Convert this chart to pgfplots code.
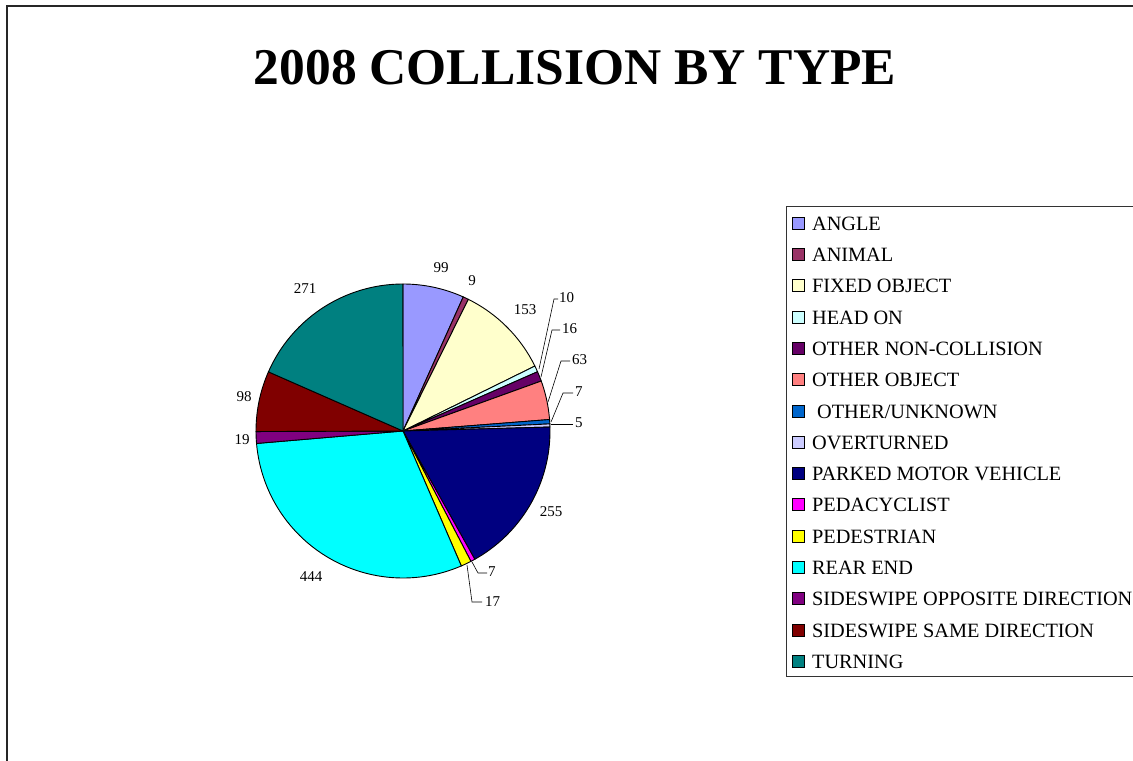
\documentclass[border=0pt]{standalone}
\usepackage{pgfplots}
\usepackage{pgfplotstable}
\pgfplotsset{compat=1.18}
\usepackage{fontspec}
\setmainfont{Liberation Serif}

% Excel palette, one colour per slice
\definecolor{c0}{HTML}{9999FF}
\definecolor{c1}{HTML}{993366}
\definecolor{c2}{HTML}{FFFFCC}
\definecolor{c3}{HTML}{CCFFFF}
\definecolor{c4}{HTML}{660066}
\definecolor{c5}{HTML}{FF8080}
\definecolor{c6}{HTML}{0066CC}
\definecolor{c7}{HTML}{CCCCFF}
\definecolor{c8}{HTML}{000080}
\definecolor{c9}{HTML}{FF00FF}
\definecolor{c10}{HTML}{FFFF00}
\definecolor{c11}{HTML}{00FFFF}
\definecolor{c12}{HTML}{800080}
\definecolor{c13}{HTML}{800000}
\definecolor{c14}{HTML}{008080}

\pgfplotstableread{
type value
{ANGLE} 99
{ANIMAL} 9
{FIXED OBJECT} 153
{HEAD ON} 10
{OTHER NON-COLLISION} 16
{OTHER OBJECT} 63
{\ OTHER/UNKNOWN} 7
{OVERTURNED} 5
{PARKED MOTOR VEHICLE} 255
{PEDACYCLIST} 7
{PEDESTRIAN} 17
{REAR END} 444
{SIDESWIPE OPPOSITE DIRECTION} 19
{SIDESWIPE SAME DIRECTION} 98
{TURNING} 271
}\collisions

\begin{document}
\begin{tikzpicture}
\begin{axis}[
    width=1133bp, height=761bp, scale only axis,
    xmin=0, xmax=1133, ymin=0, ymax=761, y dir=reverse,
    hide axis, clip=false,
    legend image code/.code={\draw[#1] (0bp,-6bp) rectangle (12bp,6bp);},
    legend cell align=left,
    legend style={at={(axis cs:792,214)}, anchor=north west, draw=none, fill=none,
        inner sep=0pt, row sep=13.3bp, column sep=7bp,
        font=\fontsize{20.3bp}{21bp}\selectfont,
        nodes={inner sep=0pt, text height=16bp, text depth=2bp}},
]
% total of all collisions
\def\total{0}
\pgfplotstablegetrowsof{\collisions}
\pgfmathtruncatemacro{\nrows}{\pgfplotsretval-1}
\pgfplotsforeachungrouped \i in {0,...,\nrows}{
  \pgfplotstablegetelem{\i}{value}\of\collisions
  \pgfmathsetmacro{\total}{\total+\pgfplotsretval}
}
% slices, clockwise from 12 o'clock
\def\start{0}
\pgfplotsforeachungrouped \i in {0,...,\nrows}{
  \pgfplotstablegetelem{\i}{value}\of\collisions
  \pgfmathsetmacro{\stop}{\start+\pgfplotsretval/\total*360}
  \pgfplotstablegetelem{\i}{type}\of\collisions
  \let\name\pgfplotsretval
  \edef\slice{\noexpand\addplot[draw=black, line width=0.9bp, fill=c\i,
      domain=\start:\stop, samples=60]
      ({403+147*sin(x)},{431-147*cos(x)}) -- (axis cs:403,431) -- cycle;
    \noexpand\addlegendentry{\name}}
  \slice
  \let\start\stop
}

% title and frames
\node[font=\bfseries\fontsize{51.5bp}{52bp}\selectfont, anchor=base] at (axis cs:575,85) {2008 COLLISION BY TYPE};
\draw[line width=1.5bp, black!85] (axis cs:1140,6) -- (axis cs:7,6) -- (axis cs:7,770);
\draw[line width=0.8bp, black!80] (axis cs:1140,206) -- (axis cs:786,206) -- (axis cs:786,676) -- (axis cs:1140,676);

% data labels
\begin{scope}[every node/.style={font=\fontsize{15bp}{15bp}\selectfont, inner sep=0pt}]
\node at (axis cs:441,268) {99};
\node at (axis cs:472,281) {9};
\node at (axis cs:525,310) {153};
\node[anchor=west] at (axis cs:559,298) {10};
\node[anchor=west] at (axis cs:562,329) {16};
\node[anchor=west] at (axis cs:572,360) {63};
\node[anchor=west] at (axis cs:575,392) {7};
\node[anchor=west] at (axis cs:575,423) {5};
\node at (axis cs:551,512) {255};
\node[anchor=west] at (axis cs:488,572) {7};
\node[anchor=west] at (axis cs:485,602) {17};
\node at (axis cs:311,577) {444};
\node at (axis cs:242,440) {19};
\node at (axis cs:244,397) {98};
\node at (axis cs:305,289) {271};
\end{scope}
% leader lines
\begin{scope}[line width=0.6bp]
\draw (axis cs:539,369) -- (axis cs:554,299) -- (axis cs:558,299);
\draw (axis cs:541,377) -- (axis cs:552,330) -- (axis cs:560,330);
\draw (axis cs:548,402) -- (axis cs:561,361) -- (axis cs:570,361);
\draw (axis cs:551,422) -- (axis cs:563,393) -- (axis cs:573,393);
\draw (axis cs:551,424) -- (axis cs:573,424);
\draw (axis cs:472,562) -- (axis cs:478,573) -- (axis cs:487,573);
\draw (axis cs:467,565) -- (axis cs:472,602) -- (axis cs:482,602);
\end{scope}
\end{axis}
\pgfresetboundingbox
\useasboundingbox (0,0) rectangle (1133bp,761bp);
\end{tikzpicture}
\end{document}
